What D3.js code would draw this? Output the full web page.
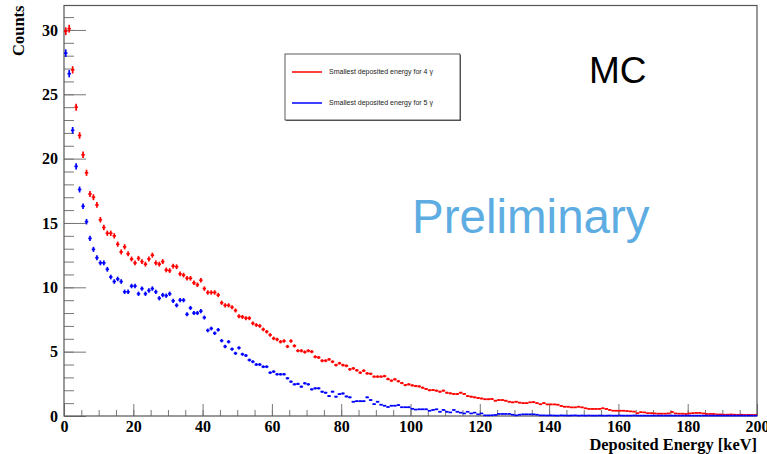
<!DOCTYPE html>
<html>
<head>
<meta charset="utf-8">
<script src="https://cdn.jsdelivr.net/npm/d3@7"></script>
<style>
  body { margin: 0; background: #fff; }
  svg { display: block; }
  .tick text { font-family: "Liberation Serif", "Times New Roman", serif; font-weight: bold; font-size: 16px; fill: #000; }
</style>
</head>
<body>
<svg id="chart" width="767" height="454"></svg>
<script>
const svg = d3.select("#chart");
const width = 767;
const height = 454;
const margin = { top: 5.5, right: 10, bottom: 38, left: 64 };

// bin range: 200 bins of 1 keV
const binEdges = [0, 200];
const yMajorTicks = [0, 5, 10, 15, 20, 25, 30];
const xMajorTicks = [0, 20, 40, 60, 80, 100, 120, 140, 160, 180, 200];

// counts per bin, 4 gamma (red)
const counts4g = [
  29.9, 30.1, 26.9, 24.0, 21.8, 20.3, 18.9, 17.25, 17.0, 16.4,
  15.25, 14.65, 14.2, 14.2, 14.0, 13.35, 12.75, 13.15, 12.6, 12.2,
  11.9, 12.25, 12.0, 11.8, 12.2, 12.5, 11.9, 11.8, 12.0, 11.35,
  11.3, 11.65, 11.6, 11.05, 10.95, 10.7, 10.7, 10.35, 10.2, 10.55,
  9.9, 9.6, 9.6, 9.6, 9.4, 8.8, 8.6, 8.6, 8.45, 8.2,
  7.75, 7.7, 7.6, 7.6, 7.2, 7.07, 7.0, 6.73, 6.55, 6.3,
  6.03, 5.95, 5.77, 5.83, 5.4, 5.83, 5.45, 5.07, 5.07, 4.97,
  5.07, 5.0, 4.6, 4.55, 4.3, 4.3, 4.4, 4.22, 3.96, 4.1,
  3.96, 3.9, 3.63, 3.7, 3.55, 3.37, 3.52, 3.31, 3.28, 3.06,
  3.06, 3.06, 3.1, 2.87, 2.75, 2.85, 2.7, 2.56, 2.4, 2.46,
  2.38, 2.33, 2.3, 2.2, 2.1, 2.0, 2.02, 1.97, 1.89, 1.97,
  1.81, 1.76, 1.71, 1.71, 1.81, 1.71, 1.55, 1.5, 1.45, 1.4,
  1.36, 1.3, 1.3, 1.32, 1.19, 1.24, 1.24, 1.19, 1.11, 1.06,
  1.11, 1.04, 1.0, 1.0, 1.06, 1.08, 1.0, 0.91, 1.0, 0.9,
  0.9, 0.9, 0.88, 0.78, 0.72, 0.72, 0.67, 0.67, 0.72, 0.67,
  0.6, 0.55, 0.55, 0.55, 0.55, 0.6, 0.55, 0.47, 0.41, 0.41,
  0.41, 0.41, 0.38, 0.36, 0.34, 0.22, 0.3, 0.28, 0.22, 0.22,
  0.2, 0.18, 0.18, 0.18, 0.2, 0.31, 0.2, 0.18, 0.18, 0.16,
  0.2, 0.22, 0.24, 0.24, 0.2, 0.16, 0.16, 0.16, 0.12, 0.12,
  0.1, 0.1, 0.12, 0.1, 0.09, 0.1, 0.08, 0.09, 0.08, 0.08
];

// counts per bin, 5 gamma (blue)
const counts5g = [
  28.2, 26.6, 22.2, 19.4, 17.6, 16.3, 15.1, 13.8, 12.95, 12.3,
  11.9, 11.9, 11.4, 10.8, 10.45, 10.65, 10.45, 9.65, 9.65, 10.1,
  10.1, 9.5, 9.9, 9.5, 9.75, 9.9, 9.65, 9.15, 9.4, 9.35,
  9.5, 8.95, 8.6, 9.0, 9.0, 7.9, 8.4, 8.0, 8.0, 8.15,
  7.65, 6.65, 6.8, 6.43, 6.7, 5.85, 5.4, 5.77, 5.2, 4.87,
  5.3, 4.8, 4.7, 4.35, 4.22, 4.0, 4.0, 3.83, 3.83, 3.37,
  3.45, 3.24, 3.24, 3.24, 2.93, 2.67, 2.46, 2.49, 2.28, 2.54,
  2.46, 2.07, 2.15, 2.15, 1.89, 1.81, 1.55, 1.89, 1.5, 1.7,
  1.75, 1.52, 1.45, 1.11, 1.15, 1.15, 1.15, 1.45, 1.24, 0.92,
  1.11, 0.88, 0.8, 0.7, 0.8, 0.8, 0.85, 0.68, 0.68, 0.68,
  0.56, 0.5, 0.52, 0.52, 0.52, 0.41, 0.47, 0.52, 0.33, 0.47,
  0.33, 0.28, 0.47, 0.33, 0.26, 0.2, 0.33, 0.2, 0.26, 0.13,
  0.2, 0.05, 0.05, 0.06, 0.08, 0.16, 0.16, 0.16, 0.16, 0.1,
  0.05, 0.1, 0.13, 0.13, 0.13, 0.13, 0.1, 0.05, 0.05, 0.04,
  0.05, 0.04, 0.03, 0.05, 0.04, 0.03, 0.04, 0.05, 0.03, 0.04,
  0.03, 0.04, 0.03, 0.03, 0.04, 0.03, 0.03, 0.04, 0.03, 0.03,
  0.04, 0.03, 0.03, 0.03, 0.04, 0.03, 0.03, 0.03, 0.03, 0.03,
  0.03, 0.03, 0.03, 0.03, 0.03, 0.03, 0.03, 0.03, 0.03, 0.03,
  0.03, 0.03, 0.03, 0.03, 0.03, 0.03, 0.03, 0.03, 0.03, 0.03,
  0.03, 0.03, 0.03, 0.03, 0.03, 0.03, 0.03, 0.03, 0.03, 0.03
];

const legendLabels = ["Smallest deposited energy for 4 \u03b3", "Smallest deposited energy for 5 \u03b3"];
const seriesColors = ["#ff0000", "#0000ff"];

const x = d3.scaleLinear().domain(binEdges).range([margin.left, width - margin.right]);
const y = d3.scaleLinear().domain([0, 31.9]).range([height - margin.bottom, margin.top]);

const tickColor = "#777";

// axes (ROOT style: ticks pointing inward)
function styleAxis(g) {
  g.select(".domain").remove();
  g.selectAll(".tick line").attr("stroke", tickColor);
}

svg.append("g")
  .attr("transform", `translate(${margin.left},0)`)
  .call(d3.axisLeft(y).tickValues(d3.range(0, 32, 1)).tickSize(-10).tickFormat(""))
  .call(styleAxis);

svg.append("g")
  .attr("transform", `translate(${margin.left},0)`)
  .call(d3.axisLeft(y).tickValues(yMajorTicks).tickSize(-22).tickPadding(6).tickFormat(d3.format("d")))
  .call(styleAxis);

svg.append("g")
  .attr("transform", `translate(0,${height - margin.bottom})`)
  .call(d3.axisBottom(x).tickValues(d3.range(0, 201, 5)).tickSize(-6).tickFormat(""))
  .call(styleAxis);

svg.append("g")
  .attr("transform", `translate(0,${height - margin.bottom})`)
  .call(d3.axisBottom(x).tickValues(xMajorTicks).tickSize(-12).tickPadding(5).tickFormat(d3.format("d")))
  .call(styleAxis);

// frame
svg.append("rect")
  .attr("x", margin.left)
  .attr("y", margin.top)
  .attr("width", width - margin.right - margin.left)
  .attr("height", height - margin.bottom - margin.top)
  .attr("fill", "none")
  .attr("stroke", "#555")
  .attr("stroke-width", 1.2);

// histograms with error bars
const plot = svg.append("g");

[counts4g, counts5g].forEach((counts, i) => {
  const g = plot.append("g").attr("stroke", seriesColors[i]).attr("stroke-width", 1.7);
  counts.forEach((v, k) => {
    const err = 0.055 * Math.sqrt(v);
    const cx = x(k + 0.5);
    g.append("line")
      .attr("x1", x(k)).attr("x2", x(k + 1))
      .attr("y1", y(v)).attr("y2", y(v));
    g.append("line")
      .attr("x1", cx).attr("x2", cx)
      .attr("y1", y(v - err)).attr("y2", y(v + err));
  });
});

// legend
const legend = svg.append("g");
legend.append("rect")
  .attr("x", 286).attr("y", 55)
  .attr("width", 175).attr("height", 66)
  .attr("fill", "#666");
legend.append("rect")
  .attr("x", 285).attr("y", 54)
  .attr("width", 175).attr("height", 66)
  .attr("fill", "#fff")
  .attr("stroke", "#333")
  .attr("stroke-width", 0.8);

legendLabels.forEach((label, i) => {
  const ly = 72 + i * 31;
  legend.append("line")
    .attr("x1", 292).attr("x2", 322)
    .attr("y1", ly).attr("y2", ly)
    .attr("stroke", seriesColors[i])
    .attr("stroke-width", 1.5);
  legend.append("text")
    .attr("x", 329).attr("y", ly)
    .attr("dy", "0.35em")
    .attr("font-family", "Liberation Sans, Arial, sans-serif")
    .attr("font-size", 7)
    .attr("fill", "#222")
    .text(label);
});

// axis titles
svg.append("text")
  .attr("transform", `translate(24,${margin.top}) rotate(-90)`)
  .attr("text-anchor", "end")
  .attr("font-family", "Liberation Serif, Times New Roman, serif")
  .attr("font-weight", "bold")
  .attr("font-size", 16.5)
  .text("Counts");

svg.append("text")
  .attr("x", width - margin.right)
  .attr("y", 450)
  .attr("text-anchor", "end")
  .attr("font-family", "Liberation Serif, Times New Roman, serif")
  .attr("font-weight", "bold")
  .attr("font-size", 16.4)
  .text("Deposited Energy [keV]");

// annotations
svg.append("text")
  .attr("x", 589).attr("y", 83)
  .attr("font-family", "Liberation Sans, Arial, sans-serif")
  .attr("font-size", 37)
  .attr("fill", "#000")
  .text("MC");

svg.append("text")
  .attr("x", 412).attr("y", 233)
  .attr("font-family", "Liberation Sans, Arial, sans-serif")
  .attr("font-size", 47.5)
  .attr("fill", "#5dade2")
  .text("Preliminary");
</script>
</body>
</html>
